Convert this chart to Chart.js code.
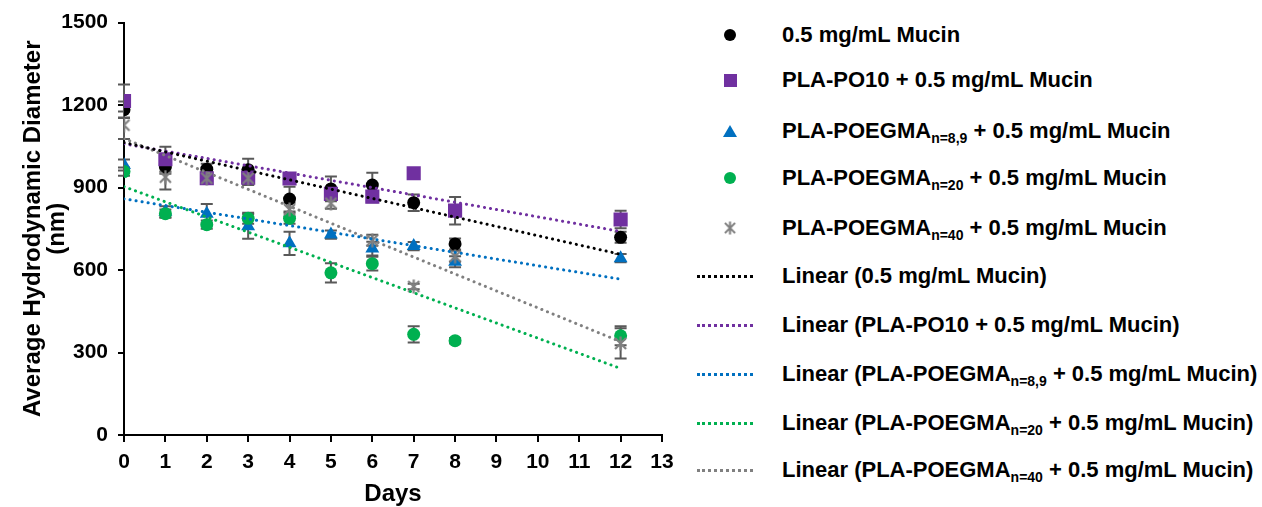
<!DOCTYPE html>
<html>
<head>
<meta charset="utf-8">
<script src="https://cdn.jsdelivr.net/npm/chart.js@4.4.0/dist/chart.umd.min.js"></script>
<style>
  body { margin: 0; background: #fff; font-family: "Liberation Sans", Arial, sans-serif; }
  #wrap { position: relative; width: 1262px; height: 507px; }
  #chartBox { position: absolute; left: 0; top: 0; width: 690px; height: 507px; }
  #legend { position: absolute; left: 690px; top: 0; width: 572px; height: 507px; }
  .lg-row { position: absolute; left: 0; height: 30px; width: 572px; }
  .lg-mark { position: absolute; top: 0; height: 30px; display: flex; align-items: center; justify-content: center; }
  .lg-line { position: absolute; left: 7px; top: 14px; width: 56px; height: 0; border-top: 3px dotted; }
  .lg-text { position: absolute; left: 92px; top: 0; line-height: 30px; font-weight: bold; font-size: 22px; color: #000; white-space: nowrap; }
  .lg-text sub { font-size: 14px; vertical-align: -5px; line-height: 0; }
</style>
</head>
<body>
<div id="wrap">
  <div id="chartBox"><canvas id="chart"></canvas></div>
  <div id="legend"></div>
</div>
<script>
// 日数
const days = [0, 1, 2, 3, 4, 5, 6, 7, 8, 12];

// 平均粒径 (nm)
const mucin    = [1183, 975, 967, 965, 858, 895, 909, 845, 695, 719];
const plaPo10  = [1215, 1003, 934, 936, 933, 877, 867, 952, 816, 784];
const poegma89 = [982, 812, 805, 759, 697, 729, 678, 687, 630, 643];
const poegma20 = [958, 805, 765, 788, 788, 590, 623, 366, 343, 361];
const poegma40 = [1127, 938, 934, 934, 820, 843, 708, 540, 650, 333];

// 誤差 (±nm)
const mucinErr    = [30, 25, 20, 40, 45, 45, 45, 30, 20, 20];
const plaPo10Err  = [60, 45, 20, 25, 20, 20, 20, 15, 50, 32];
const poegma89Err = [20, 20, 35, 45, 42, 15, 25, 15, 20, 15];
const poegma20Err = [15, 15, 15, 20, 20, 35, 25, 30, 10, 35];
const poegma40Err = [50, 45, 20, 25, 25, 20, 20, 10, 20, 55];

// 凡例ラベル
const seriesNames = [
  '0.5 mg/mL Mucin',
  'PLA-PO10 + 0.5 mg/mL Mucin',
  'PLA-POEGMA<sub>n=8,9</sub> + 0.5 mg/mL Mucin',
  'PLA-POEGMA<sub>n=20</sub> + 0.5 mg/mL Mucin',
  'PLA-POEGMA<sub>n=40</sub> + 0.5 mg/mL Mucin'
];
const seriesColors = ['#000000', '#7030A0', '#0070C0', '#00B050', '#808080'];

// 軸目盛
const xTicks = [0, 1, 2, 3, 4, 5, 6, 7, 8, 9, 10, 11, 12, 13];
const yTicks = [0, 300, 600, 900, 1200, 1500];

const FONT = "'Liberation Sans', Arial, sans-serif";

// 凡例の行位置 (px)
const legendRowY = [35, 80, 131, 178, 228, 276, 325, 374, 423, 470];

function makeStar(color, size) {
  const c = document.createElement('canvas');
  c.width = size;
  c.height = size;
  const g = c.getContext('2d');
  g.strokeStyle = color;
  g.lineWidth = 2.2;
  const m = 2;
  g.beginPath();
  g.moveTo(m, m); g.lineTo(size - m, size - m);
  g.moveTo(size - m, m); g.lineTo(m, size - m);
  g.moveTo(size / 2, 0.5); g.lineTo(size / 2, size - 0.5);
  g.stroke();
  return c;
}

// 最小二乗近似
function linearFit(xs, ys) {
  const n = xs.length;
  const mx = xs.reduce((a, b) => a + b, 0) / n;
  const my = ys.reduce((a, b) => a + b, 0) / n;
  let sxy = 0, sxx = 0;
  xs.forEach((x, i) => { sxy += (x - mx) * (ys[i] - my); sxx += (x - mx) * (x - mx); });
  const slope = sxy / sxx;
  const icpt = my - slope * mx;
  const x0 = xs[0], x1 = xs[n - 1];
  return [{ x: x0, y: icpt + slope * x0 }, { x: x1, y: icpt + slope * x1 }];
}

const toPoints = ys => days.map((d, i) => ({ x: d, y: ys[i] }));
const stripTags = s => s.replace(/<[^>]+>/g, '');

const starImg = makeStar('#808080', 15);

const series = [
  { values: mucin, errors: mucinErr, style: 'circle', radius: 6.5 },
  { values: plaPo10, errors: plaPo10Err, style: 'rect', radius: 10 },
  { values: poegma89, errors: poegma89Err, style: 'triangle', radius: 8 },
  { values: poegma20, errors: poegma20Err, style: 'circle', radius: 6.5 },
  { values: poegma40, errors: poegma40Err, style: starImg, radius: 7 }
];

const datasets = [];
series.forEach((s, i) => {
  datasets.push({
    type: 'scatter',
    label: stripTags(seriesNames[i]),
    data: toPoints(s.values),
    errors: s.errors,
    pointStyle: s.style,
    pointRadius: s.radius,
    pointHoverRadius: s.radius,
    backgroundColor: seriesColors[i],
    borderColor: seriesColors[i],
    borderWidth: 0,
    order: 10 - i
  });
});
series.forEach((s, i) => {
  datasets.push({
    type: 'line',
    label: 'Linear (' + stripTags(seriesNames[i]) + ')',
    data: linearFit(days, s.values),
    borderColor: seriesColors[i],
    borderWidth: 3,
    borderDash: [0.1, 6],
    borderCapStyle: 'round',
    pointRadius: 0,
    fill: false,
    order: 0
  });
});

// 誤差棒
const errorBars = {
  id: 'errorBars',
  beforeDatasetsDraw(chart) {
    const ctx = chart.ctx;
    const xs = chart.scales.x, ys = chart.scales.y;
    ctx.save();
    ctx.strokeStyle = '#595959';
    ctx.lineWidth = 2;
    chart.data.datasets.forEach(ds => {
      if (!ds.errors) return;
      ds.data.forEach((p, j) => {
        const e = ds.errors[j];
        if (!e) return;
        const x = xs.getPixelForValue(p.x);
        const yTop = ys.getPixelForValue(p.y + e);
        const yBot = ys.getPixelForValue(p.y - e);
        ctx.beginPath();
        ctx.moveTo(x, yTop); ctx.lineTo(x, yBot);
        ctx.moveTo(x - 6, yTop); ctx.lineTo(x + 6, yTop);
        ctx.moveTo(x - 6, yBot); ctx.lineTo(x + 6, yBot);
        ctx.stroke();
      });
    });
    ctx.restore();
  }
};

const chart = new Chart(document.getElementById('chart'), {
  data: { datasets },
  plugins: [errorBars],
  options: {
    responsive: true,
    maintainAspectRatio: false,
    animation: false,
    layout: { padding: { left: 17, right: 28, top: 18, bottom: 0 } },
    plugins: { legend: { display: false }, tooltip: { enabled: false } },
    scales: {
      x: {
        type: 'linear',
        min: 0,
        max: 13,
        afterBuildTicks: s => { s.ticks = xTicks.map(v => ({ value: v })); },
        afterFit: s => { s.height = 72; },
        border: { color: '#000', width: 2 },
        grid: { drawOnChartArea: false, color: '#000', lineWidth: 2, tickLength: 7 },
        ticks: { color: '#000', font: { family: FONT, size: 21, weight: 'bold' }, padding: 8, maxRotation: 0, callback: v => String(v) },
        title: { display: true, text: 'Days', color: '#000', font: { family: FONT, size: 24, weight: 'bold', lineHeight: 1.0 }, padding: { top: 4, bottom: 1 } }
      },
      y: {
        type: 'linear',
        min: 0,
        max: 1500,
        afterBuildTicks: s => { s.ticks = yTicks.map(v => ({ value: v })); },
        afterFit: s => { s.width = 107; },
        border: { color: '#000', width: 2 },
        grid: { drawOnChartArea: false, color: '#000', lineWidth: 2, tickLength: 6 },
        ticks: { color: '#000', font: { family: FONT, size: 21, weight: 'bold' }, padding: 10, callback: v => String(v) },
        title: {
          display: true,
          text: ['Average Hydrodynamic Diameter', '(nm)'],
          color: '#000',
          font: { family: FONT, size: 24, weight: 'bold', lineHeight: 1.0 },
          padding: { top: 4, bottom: 0 }
        }
      }
    }
  }
});

// HTML凡例
const legend = document.getElementById('legend');
seriesNames.forEach((name, i) => {
  const row = document.createElement('div');
  row.className = 'lg-row';
  row.style.top = (legendRowY[i] - 15) + 'px';
  const mark = document.createElement('div');
  mark.className = 'lg-mark';
  mark.style.left = '28px';
  mark.style.width = '24px';
  const s = series[i];
  if (s.style === 'circle') {
    mark.innerHTML = `<span style="width:12px;height:12px;border-radius:50%;background:${seriesColors[i]}"></span>`;
  } else if (s.style === 'rect') {
    mark.innerHTML = `<span style="width:13px;height:13px;background:${seriesColors[i]}"></span>`;
  } else if (s.style === 'triangle') {
    mark.innerHTML = `<span style="width:0;height:0;border-left:7px solid transparent;border-right:7px solid transparent;border-bottom:12px solid ${seriesColors[i]}"></span>`;
  } else {
    mark.innerHTML = `<img src="${starImg.toDataURL()}" width="14" height="14">`;
  }
  row.appendChild(mark);
  const txt = document.createElement('div');
  txt.className = 'lg-text';
  txt.innerHTML = name;
  row.appendChild(txt);
  legend.appendChild(row);
});
seriesNames.forEach((name, i) => {
  const row = document.createElement('div');
  row.className = 'lg-row';
  row.style.top = (legendRowY[i + 5] - 15) + 'px';
  row.innerHTML = `<div class="lg-line" style="border-top-color:${seriesColors[i]}"></div>` +
    `<div class="lg-text">Linear (${name})</div>`;
  legend.appendChild(row);
});
</script>
</body>
</html>
